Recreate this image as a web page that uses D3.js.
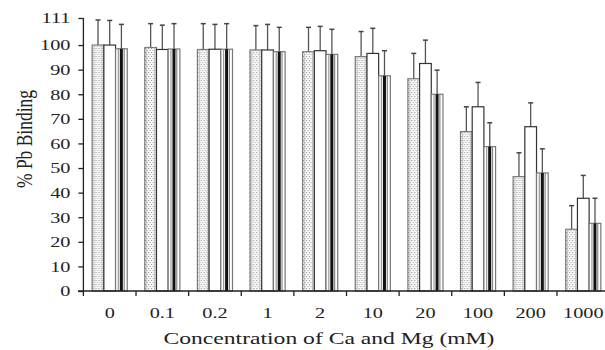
<!DOCTYPE html>
<html>
<head>
<meta charset="utf-8">
<script src="https://cdn.jsdelivr.net/npm/d3@7"></script>
<style>
  body { margin: 0; background: #fff; }
  text { font-family: "Liberation Serif", "Times New Roman", serif; fill: #222; }
</style>
</head>
<body>
<div id="chart"></div>
<script>
// concentrations of Ca and Mg (mM)
var categories = ["0", "0.1", "0.2", "1", "2", "10", "20", "100", "200", "1000"];
var seriesNames = ["dotted", "white", "striped"];

// % Pb binding, one array per series
var dottedVals  = [100, 99, 98.2, 98, 97.3, 95.3, 86.3, 64.8, 46.5, 25.1];
var whiteVals   = [100, 98.2, 98.3, 98, 97.7, 96.6, 92.5, 74.9, 66.8, 37.7];
var stripedVals = [98.5, 98.4, 98.3, 97.3, 96.2, 87.5, 80, 58.7, 48, 27.5];

// upper end of the error bars
var dottedErr  = [110.2, 108.7, 108.7, 107.9, 107.2, 105.5, 96.6, 74.9, 56.2, 34.7];
var whiteErr   = [110, 108.1, 108.4, 108.4, 107.6, 106.8, 102, 84.8, 76.5, 47];
var stripedErr = [108.4, 108.7, 108.7, 107.2, 106.4, 97.7, 89.8, 68.4, 57.8, 37.7];

var yTicks = [0, 10, 20, 30, 40, 50, 60, 70, 80, 90, 100, 111];

var STRETCH = 1.35; // the picture is wider than its fonts

var svgWidth = 605, svgHeight = 350;
var svg = d3.select("#chart").append("svg")
    .attr("width", svgWidth)
    .attr("height", svgHeight);

var defs = svg.append("defs");
var dots = defs.append("pattern")
    .attr("id", "dots")
    .attr("patternUnits", "userSpaceOnUse")
    .attr("width", 3).attr("height", 4);
dots.append("rect").attr("width", 3).attr("height", 4).attr("fill", "#fff");
dots.append("rect").attr("x", 0).attr("y", 0).attr("width", 1.2).attr("height", 1.2).attr("fill", "#999");
dots.append("rect").attr("x", 1.5).attr("y", 2).attr("width", 1.2).attr("height", 1.2).attr("fill", "#aaa");

var x0 = d3.scaleBand().domain(categories).range([83.4, 609.6]).paddingInner(0).paddingOuter(0);
var x1 = d3.scaleBand().domain(seriesNames).range([0, x0.bandwidth()]).paddingInner(0).paddingOuter(0.75);
var y = d3.scaleLinear().domain([0, 111]).range([291, 18]);

var data = categories.map(function(c, i) {
    return {
        cat: c,
        bars: [
            {s: "dotted", v: dottedVals[i], e: dottedErr[i]},
            {s: "white", v: whiteVals[i], e: whiteErr[i]},
            {s: "striped", v: stripedVals[i], e: stripedErr[i]}
        ]
    };
});

var groups = svg.selectAll("g.cat")
    .data(data)
    .enter()
    .append("g")
    .attr("class", "cat")
    .attr("transform", d => `translate(${x0(d.cat)},0)`);

var bar = groups.selectAll("g.bar")
    .data(d => d.bars)
    .enter()
    .append("g")
    .attr("class", "bar");

var bw = x1.bandwidth();

// error bars first, bars sit over them
bar.append("line")
    .attr("x1", d => x1(d.s) + bw / 2)
    .attr("x2", d => x1(d.s) + bw / 2)
    .attr("y1", d => y(d.v))
    .attr("y2", d => y(d.e))
    .attr("stroke", "#555")
    .attr("stroke-width", 1.3);
bar.append("line")
    .attr("x1", d => x1(d.s) + bw / 2 - 2.5)
    .attr("x2", d => x1(d.s) + bw / 2 + 2.5)
    .attr("y1", d => y(d.e))
    .attr("y2", d => y(d.e))
    .attr("stroke", "#444")
    .attr("stroke-width", 1.5);

bar.append("rect")
    .attr("x", d => x1(d.s))
    .attr("y", d => y(d.v))
    .attr("width", bw)
    .attr("height", d => y(0) - y(d.v))
    .attr("fill", d => d.s == "dotted" ? "url(#dots)" : "#fff")
    .attr("stroke", d => d.s == "white" ? "#333" : "#777")
    .attr("stroke-width", 1.2);

// inner lines of the striped bar
var striped = bar.filter(d => d.s == "striped");
striped.append("rect")
    .attr("x", d => x1(d.s) + 2.2)
    .attr("y", d => y(d.v))
    .attr("width", 1.2)
    .attr("height", d => y(0) - y(d.v))
    .attr("fill", "#999");
striped.append("rect")
    .attr("x", d => x1(d.s) + 4.3)
    .attr("y", d => y(d.v))
    .attr("width", 3)
    .attr("height", d => y(0) - y(d.v))
    .attr("fill", "#111");
striped.append("rect")
    .attr("x", d => x1(d.s) + 8)
    .attr("y", d => y(d.v))
    .attr("width", 1.2)
    .attr("height", d => y(0) - y(d.v))
    .attr("fill", "#888");
// side lines of the dotted bar
var dotted = bar.filter(d => d.s == "dotted");
dotted.append("rect")
    .attr("x", d => x1(d.s) + 1.5)
    .attr("y", d => y(d.v))
    .attr("width", 0.8)
    .attr("height", d => y(0) - y(d.v))
    .attr("fill", "#bbb");
dotted.append("rect")
    .attr("x", d => x1(d.s) + bw - 2.3)
    .attr("y", d => y(d.v))
    .attr("width", 0.8)
    .attr("height", d => y(0) - y(d.v))
    .attr("fill", "#bbb");

// y axis
var yAxis = d3.axisLeft(y).tickValues(yTicks).tickSize(5).tickPadding(8).tickSizeOuter(0);
var yG = svg.append("g")
    .attr("transform", "translate(83.4,0)")
    .call(yAxis);
yG.select(".domain").attr("stroke", "#222").attr("stroke-width", 1.3).attr("d", "M0,18V296");
yG.selectAll(".tick line").attr("stroke", "#222").attr("stroke-width", 1.3);
yG.selectAll(".tick text").style("font-size", "15px").attr("fill", "#222");

// x axis with ticks on the category edges
var xG = svg.append("g");
xG.append("line")
    .attr("x1", 78).attr("x2", 605)
    .attr("y1", y(0)).attr("y2", y(0))
    .attr("stroke", "#222").attr("stroke-width", 1.3);
xG.selectAll("line.xt")
    .data(categories.slice(1))
    .enter()
    .append("line")
    .attr("class", "xt")
    .attr("x1", d => x0(d)).attr("x2", d => x0(d))
    .attr("y1", y(0)).attr("y2", y(0) + 5)
    .attr("stroke", "#222").attr("stroke-width", 1.3);
xG.selectAll("text")
    .data(categories)
    .enter()
    .append("text")
    .attr("x", d => x0(d) + x0.bandwidth() / 2)
    .attr("y", 318)
    .attr("text-anchor", "middle")
    .style("font-size", "15px")
    .text(d => d);

svg.append("text")
    .attr("class", "xtitle")
    .attr("x", 329)
    .attr("y", 344)
    .attr("text-anchor", "middle")
    .style("font-size", "17.5px")
    .text("Concentration of Ca and Mg (mM)");

svg.append("text")
    .attr("transform", `translate(32,139) scale(${STRETCH},1) rotate(-90)`)
    .attr("text-anchor", "middle")
    .style("font-size", "17.5px")
    .text("% Pb Binding");

// widen the horizontal texts like in the picture
svg.selectAll("g text, text.xtitle").each(function() {
    var t = d3.select(this);
    var xv = +t.attr("x") || 0;
    t.attr("x", xv / STRETCH)
        .attr("transform", `scale(${STRETCH},1)`);
});
</script>
</body>
</html>
